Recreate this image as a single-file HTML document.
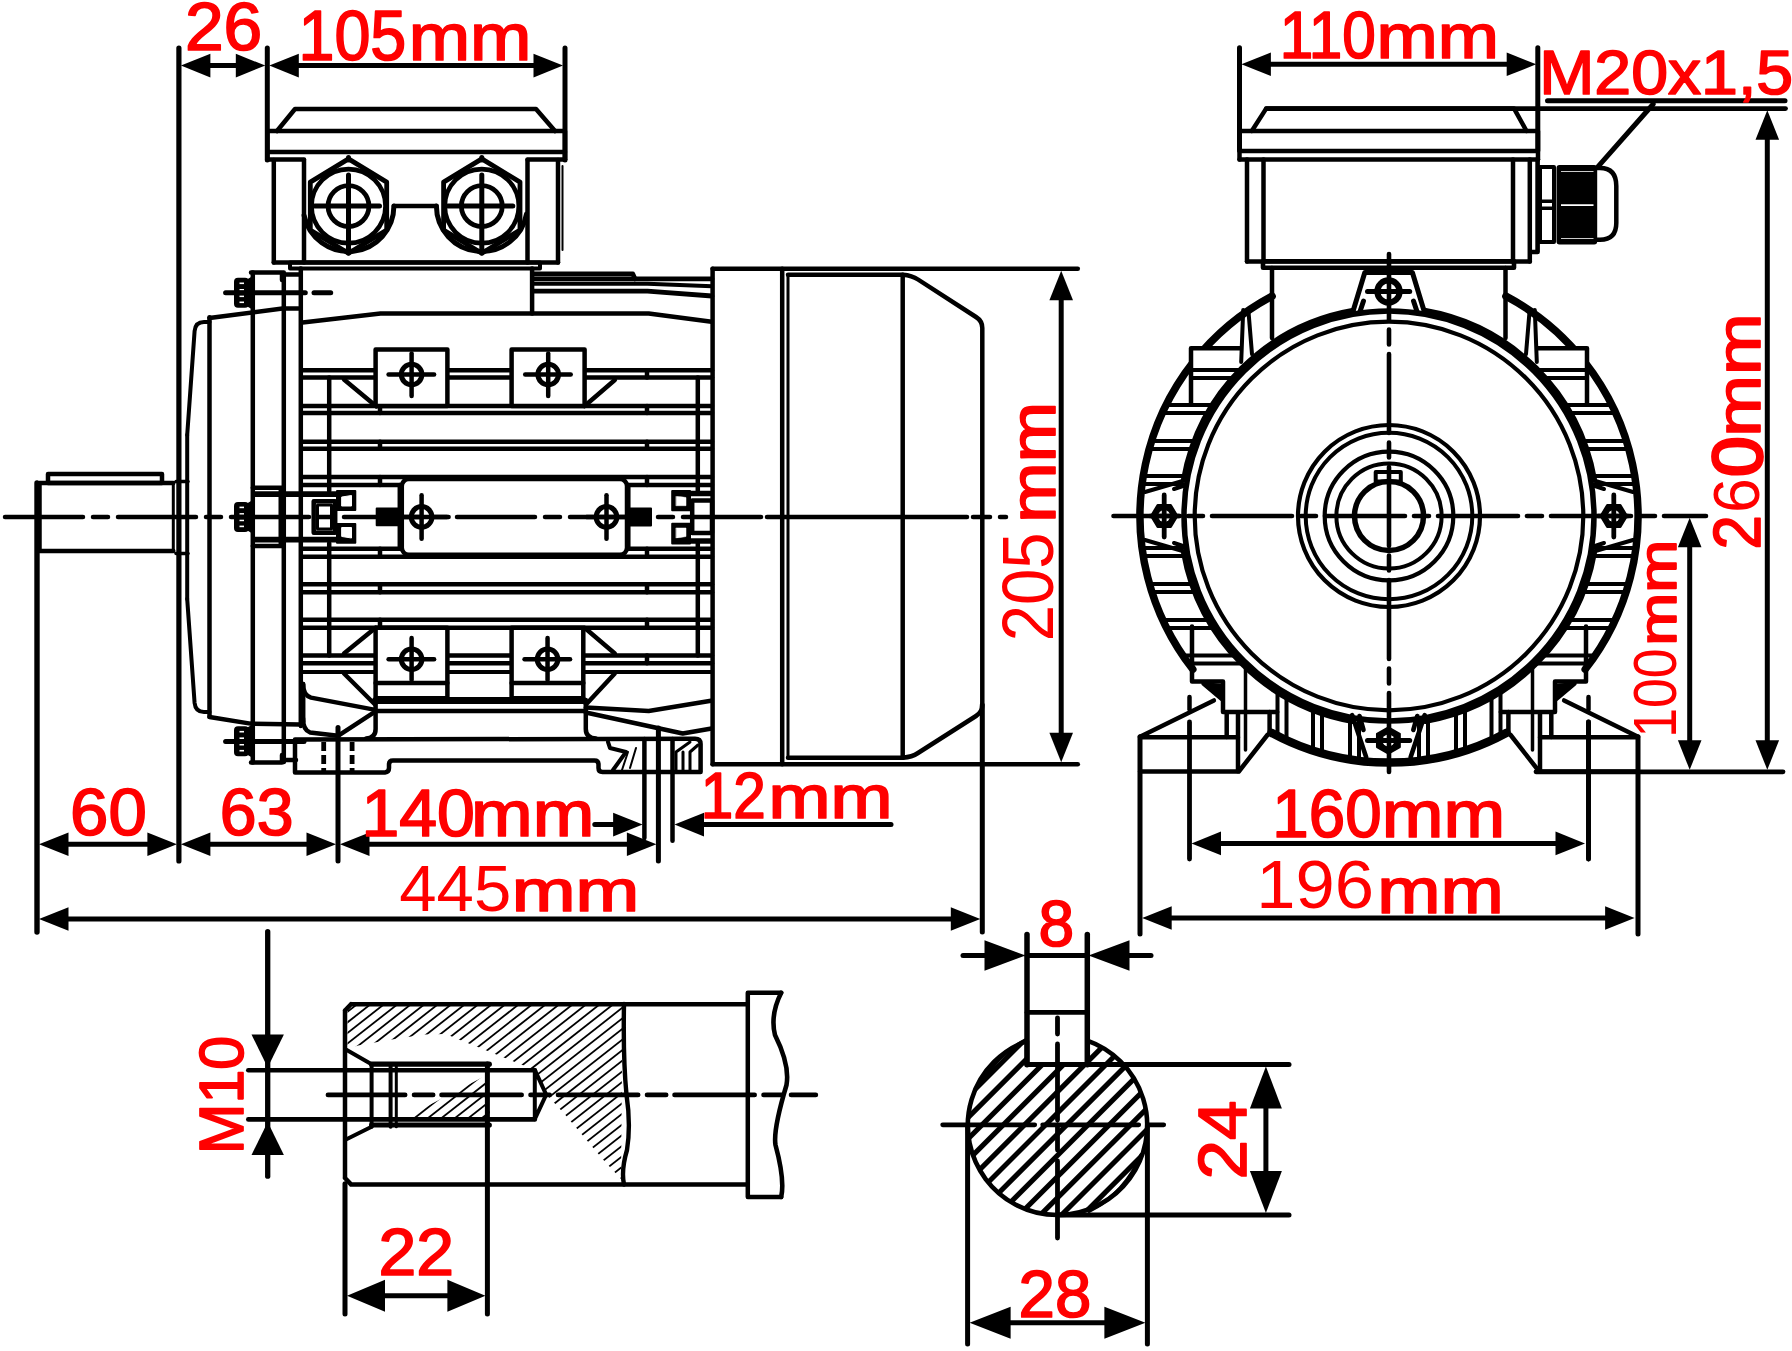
<!DOCTYPE html>
<html><head><meta charset="utf-8"><title>Motor dimensions</title>
<style>
html,body{margin:0;padding:0;background:#fff}
svg{display:block}
.t{font-family:"Liberation Sans",sans-serif;fill:#f00;stroke:#f00;stroke-width:1.7;stroke-linejoin:round}
.lt{stroke:none}
.bd{stroke-width:2.8}
</style></head><body>
<svg width="1792" height="1351" viewBox="0 0 1792 1351">
<rect width="1792" height="1351" fill="#fff"/>
<g stroke="#000" fill="none" stroke-linecap="round" stroke-linejoin="round">
<!-- side view -->
<line x1="302.6" y1="370.2" x2="712" y2="370.2" stroke-width="4.5" />
<line x1="302.6" y1="377.5" x2="712" y2="377.5" stroke-width="4.5" />
<line x1="380" y1="370.2" x2="380" y2="377.5" stroke-width="4.5" />
<line x1="647" y1="370.2" x2="647" y2="377.5" stroke-width="4.5" />
<line x1="302.6" y1="406" x2="712" y2="406" stroke-width="4.5" />
<line x1="302.6" y1="413" x2="712" y2="413" stroke-width="4.5" />
<line x1="380" y1="406" x2="380" y2="413" stroke-width="4.5" />
<line x1="647" y1="406" x2="647" y2="413" stroke-width="4.5" />
<line x1="302.6" y1="441.7" x2="712" y2="441.7" stroke-width="4.5" />
<line x1="302.6" y1="448.8" x2="712" y2="448.8" stroke-width="4.5" />
<line x1="380" y1="441.7" x2="380" y2="448.8" stroke-width="4.5" />
<line x1="647" y1="441.7" x2="647" y2="448.8" stroke-width="4.5" />
<line x1="302.6" y1="477.1" x2="712" y2="477.1" stroke-width="4.5" />
<line x1="302.6" y1="485.1" x2="712" y2="485.1" stroke-width="4.5" />
<line x1="380" y1="477.1" x2="380" y2="485.1" stroke-width="4.5" />
<line x1="647" y1="477.1" x2="647" y2="485.1" stroke-width="4.5" />
<line x1="302.6" y1="548.7" x2="712" y2="548.7" stroke-width="4.5" />
<line x1="302.6" y1="556.8" x2="712" y2="556.8" stroke-width="4.5" />
<line x1="380" y1="548.7" x2="380" y2="556.8" stroke-width="4.5" />
<line x1="647" y1="548.7" x2="647" y2="556.8" stroke-width="4.5" />
<line x1="302.6" y1="584.2" x2="712" y2="584.2" stroke-width="4.5" />
<line x1="302.6" y1="592.3" x2="712" y2="592.3" stroke-width="4.5" />
<line x1="380" y1="584.2" x2="380" y2="592.3" stroke-width="4.5" />
<line x1="647" y1="584.2" x2="647" y2="592.3" stroke-width="4.5" />
<line x1="302.6" y1="619.7" x2="712" y2="619.7" stroke-width="4.5" />
<line x1="302.6" y1="627.8" x2="712" y2="627.8" stroke-width="4.5" />
<line x1="380" y1="619.7" x2="380" y2="627.8" stroke-width="4.5" />
<line x1="647" y1="619.7" x2="647" y2="627.8" stroke-width="4.5" />
<line x1="302.6" y1="655.5" x2="712" y2="655.5" stroke-width="4.5" />
<line x1="302.6" y1="663.3" x2="712" y2="663.3" stroke-width="4.5" />
<line x1="380" y1="655.5" x2="380" y2="663.3" stroke-width="4.5" />
<line x1="647" y1="655.5" x2="647" y2="663.3" stroke-width="4.5" />
<line x1="329.2" y1="377.5" x2="329.2" y2="491" stroke-width="4.5" />
<line x1="329.2" y1="543" x2="329.2" y2="655.5" stroke-width="4.5" />
<line x1="697.8" y1="377.5" x2="697.8" y2="491" stroke-width="4.5" />
<line x1="697.8" y1="543.5" x2="697.8" y2="655.5" stroke-width="4.5" />
<line x1="302.6" y1="672" x2="712" y2="672" stroke-width="4.2" />
<line x1="344" y1="379.5" x2="376.2" y2="406.3" stroke-width="4.5" />
<line x1="614.8" y1="380" x2="584.6" y2="406" stroke-width="4.5" />
<line x1="344" y1="653.5" x2="375.6" y2="627.8" stroke-width="4.5" />
<line x1="614.8" y1="653.5" x2="584.6" y2="627.8" stroke-width="4.5" />
<line x1="344" y1="673.5" x2="375" y2="704.5" stroke-width="4.5" />
<line x1="614.8" y1="673.5" x2="586" y2="704.5" stroke-width="4.5" />
<line x1="300.8" y1="268.4" x2="300.8" y2="726" stroke-width="4.5" />
<path d="M302.6,322.6 L380.5,313.5 L648.7,313.5 L711.6,321.7" stroke-width="4.5" fill="none" />
<path d="M303,684 Q303,695 311,697.6 L374,709.6" stroke-width="4.5" fill="none" />
<path d="M303,718 Q303,730 310,732.4 L338,735.8 L374,712.3" stroke-width="4.5" fill="none" />
<path d="M585.8,707.5 L648.7,711 L711,700.8" stroke-width="4.5" fill="none" />
<path d="M585.8,712.5 L682.7,733.5 L711.6,728.5" stroke-width="4.5" fill="none" />
<line x1="532.1" y1="268.4" x2="532.1" y2="313.5" stroke-width="4.5" />
<path d="M534,273.9 L632.8,273.9 L635,278.9" stroke-width="4.8" fill="none" />
<line x1="534" y1="278.9" x2="712" y2="278.9" stroke-width="4.8" />
<path d="M534,283.8 L647.5,283.8 L712,286.2" stroke-width="4" fill="none" />
<path d="M534,291.1 L647.5,291.1 L712,296" stroke-width="4.8" fill="none" />
<rect x="375.6" y="349.4" width="71.8" height="56.6" rx="0" stroke-width="4.5" fill="#fff" />
<circle cx="411.6" cy="374.5" r="10.3" stroke-width="5" fill="none" />
<line x1="388.6" y1="374.5" x2="434.1" y2="374.5" stroke-width="4.5" />
<line x1="411.6" y1="353.5" x2="411.6" y2="396" stroke-width="4.5" />
<rect x="511.6" y="349.4" width="73" height="56.6" rx="0" stroke-width="4.5" fill="#fff" />
<circle cx="548.2" cy="374.5" r="10.3" stroke-width="5" fill="none" />
<line x1="525.2" y1="374.5" x2="570.7" y2="374.5" stroke-width="4.5" />
<line x1="548.2" y1="353.5" x2="548.2" y2="396" stroke-width="4.5" />
<rect x="375.6" y="627.8" width="71.8" height="70.5" rx="0" stroke-width="4.5" fill="#fff" />
<line x1="375.6" y1="683" x2="447.4" y2="683" stroke-width="4.5" />
<circle cx="411.6" cy="659.3" r="10.3" stroke-width="5" fill="none" />
<line x1="388.6" y1="659.3" x2="434.1" y2="659.3" stroke-width="4.5" />
<line x1="411.6" y1="638" x2="411.6" y2="680" stroke-width="4.5" />
<rect x="511.6" y="627.8" width="71.7" height="70.5" rx="0" stroke-width="4.5" fill="#fff" />
<line x1="511.6" y1="683" x2="583.3" y2="683" stroke-width="4.5" />
<circle cx="547.55" cy="659.3" r="10.3" stroke-width="5" fill="none" />
<line x1="524.55" y1="659.3" x2="570.05" y2="659.3" stroke-width="4.5" />
<line x1="547.55" y1="638" x2="547.55" y2="680" stroke-width="4.5" />
<line x1="375.6" y1="700.5" x2="583.3" y2="700.5" stroke-width="7" />
<line x1="375.6" y1="711" x2="585.8" y2="711" stroke-width="4.5" />
<path d="M375.6,700 L375.6,729 Q375.6,738 366,738.5" stroke-width="4.5" fill="none" />
<path d="M585.8,700 L585.8,729 Q585.8,738 596,738.5" stroke-width="4.5" fill="none" />
<line x1="399.8" y1="485" x2="399.8" y2="548.7" stroke-width="4.5" />
<line x1="628.3" y1="485" x2="628.3" y2="548.7" stroke-width="4.5" />
<rect x="401.8" y="479" width="225.2" height="75.8" rx="7" stroke-width="4.5" fill="#fff" />
<rect x="376.7" y="508.6" width="22.8" height="16.7" rx="0" stroke-width="2" fill="#000" />
<rect x="628" y="508.6" width="23" height="16.9" rx="0" stroke-width="2" fill="#000" />
<circle cx="421.6" cy="516.9" r="10.3" stroke-width="5" fill="none" />
<line x1="401.6" y1="516.9" x2="448.6" y2="516.9" stroke-width="4.5" />
<line x1="421.6" y1="495.2" x2="421.6" y2="538.7" stroke-width="4.5" />
<circle cx="606.5" cy="516.9" r="10.3" stroke-width="5" fill="none" />
<line x1="586.5" y1="516.9" x2="633.5" y2="516.9" stroke-width="4.5" />
<line x1="606.5" y1="495.2" x2="606.5" y2="538.7" stroke-width="4.5" />
<line x1="252.8" y1="494.2" x2="355.3" y2="494.2" stroke-width="5.8" stroke-linecap="butt"/>
<line x1="252.8" y1="539.6" x2="355.3" y2="539.6" stroke-width="5.8" stroke-linecap="butt"/>
<line x1="252.8" y1="487.8" x2="283.6" y2="487.8" stroke-width="4.5" />
<line x1="252.8" y1="546" x2="283.6" y2="546" stroke-width="4.5" />
<line x1="282" y1="491" x2="282" y2="543" stroke-width="7" />
<rect x="313.7" y="501.2" width="21.5" height="31.5" rx="0" stroke-width="4.5" fill="#fff" />
<rect x="317.5" y="505" width="14" height="24" rx="0" stroke-width="3" fill="none" />
<rect x="337" y="491" width="18.3" height="19" rx="0" stroke-width="2" fill="#000" />
<path d="M342,497 L351.5,495.5 L351.5,506 L342,506 Z" stroke-width="1" fill="#fff" stroke="#fff"/>
<rect x="337" y="524" width="18.3" height="18.7" rx="0" stroke-width="2" fill="#000" />
<path d="M342,527.5 L351.5,527.5 L351.5,538 L342,536.5 Z" stroke-width="1" fill="#fff" stroke="#fff"/>
<rect x="672.2" y="491" width="17.8" height="19.2" rx="0" stroke-width="2" fill="#000" />
<path d="M676.2,495.7 L686,497.5 L686,505.7 L676.2,505.7 Z" stroke-width="0.5" fill="#fff" stroke="#fff"/>
<rect x="672.2" y="523.8" width="17.8" height="19.7" rx="0" stroke-width="2" fill="#000" />
<path d="M676.2,528 L686,528 L686,536.5 L676.2,538.3 Z" stroke-width="0.5" fill="#fff" stroke="#fff"/>
<line x1="674" y1="493.5" x2="712" y2="493.5" stroke-width="5.5" stroke-linecap="butt"/>
<line x1="674" y1="541" x2="712" y2="541" stroke-width="5.5" stroke-linecap="butt"/>
<rect x="692.2" y="500.5" width="19.8" height="32.5" rx="0" stroke-width="4.5" fill="#fff" />
<line x1="252.8" y1="272.4" x2="252.8" y2="762.5" stroke-width="4.5" />
<line x1="283.8" y1="272.4" x2="283.8" y2="762" stroke-width="4.5" />
<path d="M251,272.4 L282,272.4 L282,280 M283.8,274.4 L300.8,274.4" stroke-width="4.5" fill="none" />
<path d="M251,762.5 L282,762.5 L282,755 M283.8,760 L296,760" stroke-width="4.5" fill="none" />
<line x1="209.5" y1="317.3" x2="209.5" y2="716.7" stroke-width="4.5" />
<path d="M209.5,318 L282.5,308.6 L298.6,308.6" stroke-width="4.5" fill="none" />
<path d="M209.5,717 L250.4,723.6 L300,724.4" stroke-width="4.5" fill="none" />
<path d="M187.2,435 L194.6,331 Q195.5,322 204,322 L209.5,322" stroke-width="4" fill="none" />
<path d="M187.2,599 L194.6,703 Q195.5,712 204,712 L209.5,712" stroke-width="4" fill="none" />
<line x1="187.2" y1="435" x2="187.2" y2="599" stroke-width="4" />
<rect x="235" y="278.8" width="13" height="28" rx="3" stroke-width="2" fill="#000" />
<line x1="239.5" y1="283.3" x2="244" y2="283.3" stroke-width="1.6" stroke="#fff" stroke-linecap="butt"/>
<line x1="239.5" y1="289.8" x2="244" y2="289.8" stroke-width="1.6" stroke="#fff" stroke-linecap="butt"/>
<line x1="239.5" y1="296.3" x2="244" y2="296.3" stroke-width="1.6" stroke="#fff" stroke-linecap="butt"/>
<line x1="239.5" y1="302.3" x2="244" y2="302.3" stroke-width="1.6" stroke="#fff" stroke-linecap="butt"/>
<path d="M246,280.8 L252.8,276.8 L252.8,308.8 L246,304.8 Z" stroke-width="1.5" fill="#000" />
<line x1="225.6" y1="292.8" x2="305.3" y2="292.8" stroke-width="5" />
<line x1="314" y1="292.8" x2="330.7" y2="292.8" stroke-width="5" />
<rect x="235" y="502.9" width="13" height="28" rx="3" stroke-width="2" fill="#000" />
<line x1="239.5" y1="507.4" x2="244" y2="507.4" stroke-width="1.6" stroke="#fff" stroke-linecap="butt"/>
<line x1="239.5" y1="513.9" x2="244" y2="513.9" stroke-width="1.6" stroke="#fff" stroke-linecap="butt"/>
<line x1="239.5" y1="520.4" x2="244" y2="520.4" stroke-width="1.6" stroke="#fff" stroke-linecap="butt"/>
<line x1="239.5" y1="526.4" x2="244" y2="526.4" stroke-width="1.6" stroke="#fff" stroke-linecap="butt"/>
<path d="M246,504.9 L252.8,500.9 L252.8,532.9 L246,528.9 Z" stroke-width="1.5" fill="#000" />
<rect x="235" y="727.2" width="13" height="28" rx="3" stroke-width="2" fill="#000" />
<line x1="239.5" y1="731.7" x2="244" y2="731.7" stroke-width="1.6" stroke="#fff" stroke-linecap="butt"/>
<line x1="239.5" y1="738.2" x2="244" y2="738.2" stroke-width="1.6" stroke="#fff" stroke-linecap="butt"/>
<line x1="239.5" y1="744.7" x2="244" y2="744.7" stroke-width="1.6" stroke="#fff" stroke-linecap="butt"/>
<line x1="239.5" y1="750.7" x2="244" y2="750.7" stroke-width="1.6" stroke="#fff" stroke-linecap="butt"/>
<path d="M246,729.2 L252.8,725.2 L252.8,757.2 L246,753.2 Z" stroke-width="1.5" fill="#000" />
<line x1="225.6" y1="741.4" x2="304" y2="741.4" stroke-width="5" />
<line x1="303.2" y1="684" x2="303.2" y2="722" stroke-width="4.5" />
<path d="M173.3,483 L39.5,483 L39.5,551 L173.3,551" stroke-width="4.5" fill="none" />
<line x1="173.3" y1="483" x2="173.3" y2="551" stroke-width="3" />
<rect x="48" y="474" width="114" height="9" rx="0" stroke-width="4.5" fill="none" />
<line x1="37" y1="483" x2="37" y2="932" stroke-width="5.4" />
<line x1="176" y1="481.6" x2="188" y2="481.6" stroke-width="3.5" />
<line x1="176" y1="553.4" x2="188" y2="553.4" stroke-width="3.5" />
<path d="M277,131 L295,109 L536,109 L555,131" stroke-width="4.5" fill="none" />
<rect x="267.3" y="131" width="297.7" height="21" rx="0" stroke-width="4.5" fill="none" />
<line x1="267.3" y1="159.6" x2="304" y2="159.6" stroke-width="4.5" />
<line x1="527.5" y1="159.6" x2="565" y2="159.6" stroke-width="4.5" />
<line x1="267.3" y1="152" x2="267.3" y2="159.6" stroke-width="4.5" />
<line x1="565" y1="152" x2="565" y2="159.6" stroke-width="4.5" />
<line x1="273.8" y1="160" x2="273.8" y2="262.4" stroke-width="4.5" />
<line x1="304" y1="160" x2="304" y2="262.4" stroke-width="4.5" />
<line x1="527.5" y1="160" x2="527.5" y2="262.4" stroke-width="4.5" />
<line x1="558" y1="160" x2="558" y2="262.4" stroke-width="4.5" />
<line x1="273.8" y1="262.4" x2="558" y2="262.4" stroke-width="4.5" />
<line x1="562.5" y1="166" x2="562.5" y2="250" stroke-width="2" />
<rect x="290" y="262.4" width="250" height="6.2" rx="0" stroke-width="4" fill="none" />
<polygon points="348.5,158.9 386.7,182.1 386.7,230.1 348.5,253.3 310.3,230.1 310.3,182.1" stroke-width="4.8" fill="#fff"/>
<line x1="348.5" y1="157.6" x2="348.5" y2="160.1" stroke-width="5" />
<circle cx="348.5" cy="206.1" r="37" stroke-width="4.6" fill="none" />
<circle cx="348.5" cy="206.1" r="20.4" stroke-width="4.8" fill="none" />
<line x1="314.5" y1="206.1" x2="379.5" y2="206.1" stroke-width="5" />
<line x1="348.5" y1="175.1" x2="348.5" y2="253.1" stroke-width="5" />
<polygon points="481.8,158.9 520,182.1 520,230.1 481.8,253.3 443.6,230.1 443.6,182.1" stroke-width="4.8" fill="#fff"/>
<line x1="481.8" y1="157.6" x2="481.8" y2="160.1" stroke-width="5" />
<circle cx="481.8" cy="206.1" r="37" stroke-width="4.6" fill="none" />
<circle cx="481.8" cy="206.1" r="20.4" stroke-width="4.8" fill="none" />
<line x1="447.8" y1="206.1" x2="512.8" y2="206.1" stroke-width="5" />
<line x1="481.8" y1="175.1" x2="481.8" y2="253.1" stroke-width="5" />
<path d="M393.9,206.1 A45.4,45.4 0 0 1 304.09,215.54" stroke-width="5" fill="none" />
<path d="M436.4,206.1 A45.4,45.4 0 0 0 526.51,213.98" stroke-width="5" fill="none" />
<line x1="393.9" y1="206.1" x2="436.4" y2="206.1" stroke-width="4.5" />
<line x1="712.6" y1="268.8" x2="712.6" y2="764.3" stroke-width="4.5" />
<line x1="712.6" y1="268.8" x2="1077.8" y2="268.8" stroke-width="4.5" />
<line x1="712.6" y1="764.3" x2="1077.8" y2="764.3" stroke-width="4.5" />
<line x1="782.2" y1="268.8" x2="782.2" y2="764.3" stroke-width="4.5" />
<line x1="788" y1="274.8" x2="788" y2="757.7" stroke-width="3" />
<path d="M788,274.8 L903,274.8 Q912,275.5 918,279.5 L976,317 Q982.3,321 982.3,328 L982.3,705 Q982.3,712 976,716 L918,753 Q912,757 903,757.7 L788,757.7" stroke-width="4.5" fill="none" />
<line x1="902.7" y1="274.8" x2="902.7" y2="757.7" stroke-width="4.5" />
<line x1="982.3" y1="705" x2="982.3" y2="932" stroke-width="5" />
<path d="M295,739.5 L295,772.4 L385,772.4 Q389,772 389,768 L389,764.5 Q389,760.6 393,760.6 L594.5,760.6 Q598.5,760.6 598.5,764.5 L598.5,768 Q598.5,772 602.5,772 L700.6,772 L700.6,744 Q700.6,738.8 695,738.8 Z" stroke-width="4.5" fill="none" />
<line x1="323.7" y1="742" x2="323.7" y2="771" stroke-width="4.8" stroke-dasharray="9 4" stroke-linecap="butt"/>
<line x1="352.1" y1="742" x2="352.1" y2="771" stroke-width="4.8" stroke-dasharray="9 4" stroke-linecap="butt"/>
<path d="M608,742 L610,748 L626,752 L613,770" stroke-width="4" fill="none" />
<path d="M628,752 L622,770 M636,748 L630,768" stroke-width="2" fill="none" />
<path d="M676,770 L676,752 L690,742 M683,770 L683,752 M690,770 L690,752 L698,745" stroke-width="3" fill="none" />
<line x1="338" y1="727.4" x2="338" y2="861" stroke-width="5" />
<line x1="644.4" y1="738.9" x2="644.4" y2="838" stroke-width="4.5" />
<line x1="658.4" y1="728" x2="658.4" y2="861" stroke-width="5" />
<line x1="672.5" y1="738.9" x2="672.5" y2="840.7" stroke-width="4.5" />
<line x1="178.9" y1="48" x2="178.9" y2="861" stroke-width="5.2" />
<line x1="267.3" y1="48" x2="267.3" y2="160" stroke-width="5" />
<line x1="565" y1="48" x2="565" y2="160" stroke-width="5" />
<line x1="199.55" y1="65.6" x2="246.65" y2="65.6" stroke-width="5" stroke-linecap="butt"/>
<polygon points="180.9,65.6 210.4,53.8 210.4,77.4" fill="#000" stroke="none"/>
<polygon points="265.3,65.6 235.8,53.8 235.8,77.4" fill="#000" stroke="none"/>
<line x1="287.95" y1="65.6" x2="544.35" y2="65.6" stroke-width="5" stroke-linecap="butt"/>
<polygon points="269.3,65.6 298.8,53.8 298.8,77.4" fill="#000" stroke="none"/>
<polygon points="563,65.6 533.5,53.8 533.5,77.4" fill="#000" stroke="none"/>
<line x1="57.65" y1="844.3" x2="158.25" y2="844.3" stroke-width="5" stroke-linecap="butt"/>
<polygon points="39,844.3 68.5,832.5 68.5,856.1" fill="#000" stroke="none"/>
<polygon points="176.9,844.3 147.4,832.5 147.4,856.1" fill="#000" stroke="none"/>
<line x1="199.55" y1="844.3" x2="317.35" y2="844.3" stroke-width="5" stroke-linecap="butt"/>
<polygon points="180.9,844.3 210.4,832.5 210.4,856.1" fill="#000" stroke="none"/>
<polygon points="336,844.3 306.5,832.5 306.5,856.1" fill="#000" stroke="none"/>
<line x1="358.65" y1="844.3" x2="637.75" y2="844.3" stroke-width="5" stroke-linecap="butt"/>
<polygon points="340,844.3 369.5,832.5 369.5,856.1" fill="#000" stroke="none"/>
<polygon points="656.4,844.3 626.9,832.5 626.9,856.1" fill="#000" stroke="none"/>
<line x1="594.8" y1="824.6" x2="625" y2="824.6" stroke-width="5" />
<polygon points="642.6,824.6 613.1,812.8 613.1,836.4" fill="#000" stroke="none"/>
<polygon points="674.5,824.6 704,812.8 704,836.4" fill="#000" stroke="none"/>
<line x1="695" y1="824.6" x2="891" y2="824.6" stroke-width="5" />
<line x1="57.65" y1="919" x2="961.65" y2="919" stroke-width="5" stroke-linecap="butt"/>
<polygon points="39,919 68.5,907.2 68.5,930.8" fill="#000" stroke="none"/>
<polygon points="980.3,919 950.8,907.2 950.8,930.8" fill="#000" stroke="none"/>
<line x1="1061.2" y1="289.45" x2="1061.2" y2="743.65" stroke-width="5" stroke-linecap="butt"/>
<polygon points="1061.2,270.8 1049.4,300.3 1073,300.3" fill="#000" stroke="none"/>
<polygon points="1061.2,762.3 1049.4,732.8 1073,732.8" fill="#000" stroke="none"/>
<line x1="5" y1="517" x2="763" y2="517" stroke-width="4.5" stroke-dasharray="78 10 15 10"/>
<line x1="767" y1="517" x2="967" y2="517" stroke-width="4.5" />
<line x1="973" y1="517" x2="990" y2="517" stroke-width="4.5" />
<line x1="1000" y1="517" x2="1006" y2="517" stroke-width="4.5" />
<!-- end view -->
<path d="M1192.79,669.3 A249,249 0 0 1 1272.1,296.15" stroke-width="7.5" fill="none" />
<path d="M1271.33,732.72 A246.6,246.6 0 0 0 1389,762.6" stroke-width="8.5" fill="none" />
<rect x="1191" y="348.3" width="49.5" height="21" fill="#fff" stroke="none"/>
<line x1="1191" y1="370" x2="1239.45" y2="370" stroke-width="4" />
<line x1="1191" y1="378" x2="1232.04" y2="378" stroke-width="4" />
<line x1="1168.11" y1="405" x2="1211.91" y2="405" stroke-width="4" />
<line x1="1164.3" y1="413" x2="1207.14" y2="413" stroke-width="4" />
<line x1="1153.56" y1="441" x2="1193.92" y2="441" stroke-width="4" />
<line x1="1151.18" y1="449" x2="1191.03" y2="449" stroke-width="4" />
<line x1="1145.23" y1="476" x2="1183.86" y2="476" stroke-width="4" />
<line x1="1144.06" y1="484" x2="1182.46" y2="484" stroke-width="4" />
<line x1="1144.06" y1="548" x2="1182.46" y2="548" stroke-width="4" />
<line x1="1145.23" y1="556" x2="1183.86" y2="556" stroke-width="4" />
<line x1="1151.47" y1="584" x2="1191.37" y2="584" stroke-width="4" />
<line x1="1153.88" y1="592" x2="1194.31" y2="592" stroke-width="4" />
<line x1="1164.76" y1="620" x2="1207.71" y2="620" stroke-width="4" />
<line x1="1168.61" y1="628" x2="1212.54" y2="628" stroke-width="4" />
<line x1="1184.75" y1="655.5" x2="1233.37" y2="655.5" stroke-width="4" />
<line x1="1190.39" y1="663.5" x2="1240.93" y2="663.5" stroke-width="4" />
<line x1="1277.5" y1="688.03" x2="1277.5" y2="736.64" stroke-width="4" />
<line x1="1286.5" y1="693.54" x2="1286.5" y2="740.92" stroke-width="4" />
<line x1="1313" y1="706.39" x2="1313" y2="751.12" stroke-width="4" />
<line x1="1322" y1="709.74" x2="1322" y2="753.82" stroke-width="4" />
<line x1="1350" y1="717.26" x2="1350" y2="759.93" stroke-width="4" />
<line x1="1359" y1="718.79" x2="1359" y2="761.19" stroke-width="4" />
<path d="M1240.5,348.3 L1191,348.3 L1191,404" stroke-width="4.5" fill="none" />
<path d="M1243.2,310 L1241.2,362 M1248.6,313 L1252,354" stroke-width="4" fill="none" />
<path d="M1192,626.6 L1192,681.6 L1223,681.6 L1223,712 L1277.2,712" stroke-width="4.5" fill="none" />
<path d="M1203.3,683.8 L1221.4,699 L1221.4,686 Z" stroke-width="4" fill="#000" />
<line x1="1245.5" y1="668" x2="1245.5" y2="750" stroke-width="3.5" />
<line x1="1269.6" y1="712" x2="1269.6" y2="731" stroke-width="4.5" />
<path d="M1140,736.8 L1213.9,700.4" stroke-width="4.5" fill="none" />
<path d="M1140,737.3 L1238,737.3 M1140,771.5 L1238.8,771.5 L1267.4,735" stroke-width="4.5" fill="none" />
<line x1="1238" y1="712.5" x2="1238" y2="771.2" stroke-width="4.5" />
<line x1="1226.7" y1="712.5" x2="1226.7" y2="737" stroke-width="4.5" />
<line x1="1140" y1="736.8" x2="1140" y2="934" stroke-width="5" />
<line x1="1189.5" y1="697" x2="1189.5" y2="709.5" stroke-width="4.5" />
<line x1="1189.5" y1="722" x2="1189.5" y2="859" stroke-width="4.8" />
<polygon points="1177.4,516 1170.8,527.09 1157.6,527.09 1151,516 1157.6,504.91 1170.8,504.91" stroke-width="2" fill="#000"/>
<circle cx="1164.2" cy="516" r="6" fill="#fff" stroke="none"/>
<line x1="1164.2" y1="495" x2="1164.2" y2="537" stroke-width="4.8" />
<path d="M1145,492 L1186,480 M1174,489 L1186,485" stroke-width="4" fill="none" />
<path d="M1145,540 L1186,552 M1174,543 L1186,547" stroke-width="4" fill="none" />
<path d="M1585.21,669.3 A249,249 0 0 0 1505.9,296.15" stroke-width="7.5" fill="none" />
<path d="M1506.67,732.72 A246.6,246.6 0 0 1 1389,762.6" stroke-width="8.5" fill="none" />
<rect x="1537.5" y="348.3" width="49.5" height="21" fill="#fff" stroke="none"/>
<line x1="1587" y1="370" x2="1538.55" y2="370" stroke-width="4" />
<line x1="1587" y1="378" x2="1545.96" y2="378" stroke-width="4" />
<line x1="1609.89" y1="405" x2="1566.09" y2="405" stroke-width="4" />
<line x1="1613.7" y1="413" x2="1570.86" y2="413" stroke-width="4" />
<line x1="1624.44" y1="441" x2="1584.08" y2="441" stroke-width="4" />
<line x1="1626.82" y1="449" x2="1586.97" y2="449" stroke-width="4" />
<line x1="1632.77" y1="476" x2="1594.14" y2="476" stroke-width="4" />
<line x1="1633.94" y1="484" x2="1595.54" y2="484" stroke-width="4" />
<line x1="1633.94" y1="548" x2="1595.54" y2="548" stroke-width="4" />
<line x1="1632.77" y1="556" x2="1594.14" y2="556" stroke-width="4" />
<line x1="1626.53" y1="584" x2="1586.63" y2="584" stroke-width="4" />
<line x1="1624.12" y1="592" x2="1583.69" y2="592" stroke-width="4" />
<line x1="1613.24" y1="620" x2="1570.29" y2="620" stroke-width="4" />
<line x1="1609.39" y1="628" x2="1565.46" y2="628" stroke-width="4" />
<line x1="1593.25" y1="655.5" x2="1544.63" y2="655.5" stroke-width="4" />
<line x1="1587.61" y1="663.5" x2="1537.07" y2="663.5" stroke-width="4" />
<line x1="1500.5" y1="688.03" x2="1500.5" y2="736.64" stroke-width="4" />
<line x1="1491.5" y1="693.54" x2="1491.5" y2="740.92" stroke-width="4" />
<line x1="1465" y1="706.39" x2="1465" y2="751.12" stroke-width="4" />
<line x1="1456" y1="709.74" x2="1456" y2="753.82" stroke-width="4" />
<line x1="1428" y1="717.26" x2="1428" y2="759.93" stroke-width="4" />
<line x1="1419" y1="718.79" x2="1419" y2="761.19" stroke-width="4" />
<path d="M1537.5,348.3 L1587,348.3 L1587,404" stroke-width="4.5" fill="none" />
<path d="M1534.8,310 L1536.8,362 M1529.4,313 L1526,354" stroke-width="4" fill="none" />
<path d="M1586,626.6 L1586,681.6 L1555,681.6 L1555,712 L1500.8,712" stroke-width="4.5" fill="none" />
<path d="M1574.7,683.8 L1556.6,699 L1556.6,686 Z" stroke-width="4" fill="#000" />
<line x1="1532.5" y1="668" x2="1532.5" y2="750" stroke-width="3.5" />
<line x1="1508.4" y1="712" x2="1508.4" y2="731" stroke-width="4.5" />
<path d="M1638,736.8 L1564.1,700.4" stroke-width="4.5" fill="none" />
<path d="M1638,737.3 L1540,737.3 M1638,771.5 L1539.2,771.5 L1510.6,735" stroke-width="4.5" fill="none" />
<line x1="1540" y1="712.5" x2="1540" y2="771.2" stroke-width="4.5" />
<line x1="1551.3" y1="712.5" x2="1551.3" y2="737" stroke-width="4.5" />
<line x1="1638" y1="736.8" x2="1638" y2="934" stroke-width="5" />
<line x1="1588.5" y1="697" x2="1588.5" y2="709.5" stroke-width="4.5" />
<line x1="1588.5" y1="722" x2="1588.5" y2="859" stroke-width="4.8" />
<polygon points="1627,516 1620.4,527.09 1607.2,527.09 1600.6,516 1607.2,504.91 1620.4,504.91" stroke-width="2" fill="#000"/>
<circle cx="1613.8" cy="516" r="6" fill="#fff" stroke="none"/>
<line x1="1613.8" y1="495" x2="1613.8" y2="537" stroke-width="4.8" />
<path d="M1633,492 L1592,480 M1604,489 L1592,485" stroke-width="4" fill="none" />
<path d="M1633,540 L1592,552 M1604,543 L1592,547" stroke-width="4" fill="none" />
<circle cx="1389" cy="516" r="205" stroke-width="5.5" fill="none" />
<circle cx="1389" cy="516" r="194.3" stroke-width="4.2" fill="none" />
<path d="M1594.82,552.29 A209,209 0 0 1 1425.29,721.82" stroke-width="4.5" fill="none" />
<path d="M1352.71,721.82 A209,209 0 0 1 1183.18,552.29" stroke-width="4.5" fill="none" />
<path d="M1183.18,479.71 A209,209 0 0 1 1353.43,310.05" stroke-width="4.5" fill="none" />
<path d="M1424.57,310.05 A209,209 0 0 1 1594.82,479.71" stroke-width="4.5" fill="none" />
<circle cx="1389" cy="516" r="91" stroke-width="4.2" fill="none" />
<circle cx="1389" cy="516" r="83.3" stroke-width="4" fill="none" />
<circle cx="1389" cy="516" r="64.3" stroke-width="4.2" fill="none" />
<circle cx="1389" cy="516" r="52.6" stroke-width="4" fill="none" />
<circle cx="1389" cy="516" r="34.5" stroke-width="5.5" fill="none" />
<rect x="1375.7" y="472" width="25.1" height="9.4" rx="0" stroke-width="4" fill="none" />
<line x1="1272" y1="268" x2="1272" y2="338" stroke-width="4.5" />
<line x1="1505.5" y1="268" x2="1505.5" y2="338" stroke-width="4.5" />
<path d="M1251.8,131 L1266.3,108.4 L1514,108.4 L1526.5,131" stroke-width="4.5" fill="none" />
<rect x="1239.5" y="131" width="298.5" height="20.1" rx="0" stroke-width="4.5" fill="none" />
<line x1="1239.5" y1="159.4" x2="1538" y2="159.4" stroke-width="4.5" />
<line x1="1239.5" y1="151" x2="1239.5" y2="159.4" stroke-width="4.5" />
<line x1="1538" y1="151" x2="1538" y2="159.4" stroke-width="4.5" />
<line x1="1247" y1="159.4" x2="1247" y2="261.4" stroke-width="4.5" />
<line x1="1263.5" y1="159.4" x2="1263.5" y2="261.4" stroke-width="4.5" />
<line x1="1513" y1="159.4" x2="1513" y2="261.4" stroke-width="4.5" />
<line x1="1529.8" y1="159.4" x2="1529.8" y2="261.4" stroke-width="4.5" />
<line x1="1247" y1="261.4" x2="1529.8" y2="261.4" stroke-width="4.5" />
<rect x="1263" y="261.2" width="251" height="6.6" rx="0" stroke-width="4.6" fill="none" />
<path d="M1537.6,159.4 L1537.6,252 L1531,252" stroke-width="4.6" fill="none" />
<rect x="1540" y="167" width="14" height="75" rx="0" stroke-width="4" fill="none" />
<line x1="1540" y1="201.3" x2="1554" y2="201.3" stroke-width="3.6" />
<line x1="1540" y1="208.2" x2="1554" y2="208.2" stroke-width="3.6" />
<rect x="1557.5" y="166" width="38.7" height="77.5" rx="2" stroke-width="2" fill="#000" />
<line x1="1561" y1="205.1" x2="1593.5" y2="205.1" stroke-width="1.8" stroke="#fff" stroke-linecap="butt"/>
<line x1="1561" y1="171.5" x2="1593.5" y2="171.5" stroke-width="0.8" stroke="#fff" stroke-linecap="butt"/>
<line x1="1561" y1="238.5" x2="1593.5" y2="238.5" stroke-width="0.8" stroke="#fff" stroke-linecap="butt"/>
<path d="M1596.7,168 L1600,168 Q1616.3,168 1616.3,186 L1616.3,223 Q1616.3,239.7 1600,239.7 L1596.7,239.7" stroke-width="4.5" fill="none" />
<line x1="1653.3" y1="104" x2="1598" y2="166.7" stroke-width="5" />
<line x1="1547.5" y1="100.7" x2="1785" y2="100.7" stroke-width="5" />
<line x1="1266.3" y1="108.6" x2="1785.5" y2="108.6" stroke-width="4.8" />
<path d="M1353.4,310 L1364.8,272.5 L1412.4,272.5 L1423.8,310 M1363.5,301 L1359.5,313 M1413.5,301 L1417.5,313" stroke-width="5" fill="none" />
<circle cx="1388.5" cy="291.5" r="11.1" stroke-width="6.2" fill="none" />
<line x1="1367.5" y1="291.5" x2="1409.7" y2="291.5" stroke-width="5" />
<path d="M1352.1,715.1 L1366.2,757.3 M1424.7,715.1 L1410.6,757.3 M1359.5,716 L1363.5,730 M1417.3,716 L1413.3,730" stroke-width="4.6" fill="none" />
<polygon points="1399.83,747.1 1388.4,753.7 1376.97,747.1 1376.97,733.9 1388.4,727.3 1399.83,733.9" stroke-width="2" fill="#000"/>
<circle cx="1388.4" cy="740.5" r="6" fill="#fff" stroke="none"/>
<line x1="1367.5" y1="740.5" x2="1409.7" y2="740.5" stroke-width="5" />
<line x1="1239.5" y1="47.7" x2="1239.5" y2="150" stroke-width="5" />
<line x1="1537.8" y1="47.7" x2="1537.8" y2="150" stroke-width="5" />
<line x1="1260.05" y1="64.3" x2="1517.55" y2="64.3" stroke-width="5" stroke-linecap="butt"/>
<polygon points="1241.4,64.3 1270.9,52.5 1270.9,76.1" fill="#000" stroke="none"/>
<polygon points="1536.2,64.3 1506.7,52.5 1506.7,76.1" fill="#000" stroke="none"/>
<line x1="1767.3" y1="128.85" x2="1767.3" y2="751.15" stroke-width="5" stroke-linecap="butt"/>
<polygon points="1767.3,110.2 1755.5,139.7 1779.1,139.7" fill="#000" stroke="none"/>
<polygon points="1767.3,769.8 1755.5,740.3 1779.1,740.3" fill="#000" stroke="none"/>
<line x1="1689.7" y1="536.45" x2="1689.7" y2="751.15" stroke-width="5" stroke-linecap="butt"/>
<polygon points="1689.7,517.8 1677.9,547.3 1701.5,547.3" fill="#000" stroke="none"/>
<polygon points="1689.7,769.8 1677.9,740.3 1701.5,740.3" fill="#000" stroke="none"/>
<line x1="1536" y1="771.8" x2="1783" y2="771.8" stroke-width="4.8" />
<line x1="1210.15" y1="843.4" x2="1566.35" y2="843.4" stroke-width="5" stroke-linecap="butt"/>
<polygon points="1191.5,843.4 1221,831.6 1221,855.2" fill="#000" stroke="none"/>
<polygon points="1585,843.4 1555.5,831.6 1555.5,855.2" fill="#000" stroke="none"/>
<line x1="1588.5" y1="722" x2="1588.5" y2="859" stroke-width="4.8" />
<line x1="1160.85" y1="918" x2="1615.95" y2="918" stroke-width="5" stroke-linecap="butt"/>
<polygon points="1142.2,918 1171.7,906.2 1171.7,929.8" fill="#000" stroke="none"/>
<polygon points="1634.6,918 1605.1,906.2 1605.1,929.8" fill="#000" stroke="none"/>
<line x1="1113.5" y1="516" x2="1706" y2="516" stroke-width="4.6" stroke-dasharray="80 9 15 9" stroke-dashoffset="14.5"/>
<line x1="1150" y1="516" x2="1180" y2="516" stroke-width="4.6" />
<line x1="1598" y1="516" x2="1628" y2="516" stroke-width="4.6" />
<line x1="1389" y1="254" x2="1389" y2="772.5" stroke-width="4.6" stroke-dasharray="79 9.5 15 9.5" stroke-dashoffset="13"/>
<!-- shaft end detail -->
<clipPath id="hs"><path d="M347.5,1005 L622.5,1005 L621,1179 L603,1159.6 L565.4,1115 L547.5,1095.4 L531.4,1068.6 L513.6,1061.4 L495.7,1054.3 L477.9,1047.1 L460,1040 L445.7,1034 L424.3,1034.6 L388.6,1040 L358.2,1045.4 L347.5,1049 Z M406.4,1117 L485,1076 L490.4,1117 Z"/></clipPath>
<g clip-path="url(#hs)" stroke-width="1.8" stroke-linecap="butt">
<line x1="340" y1="975.26" x2="630" y2="747.32"/>
<line x1="340" y1="985.86" x2="630" y2="757.92"/>
<line x1="340" y1="996.46" x2="630" y2="768.52"/>
<line x1="340" y1="1007.06" x2="630" y2="779.12"/>
<line x1="340" y1="1017.66" x2="630" y2="789.72"/>
<line x1="340" y1="1028.26" x2="630" y2="800.32"/>
<line x1="340" y1="1038.86" x2="630" y2="810.92"/>
<line x1="340" y1="1049.46" x2="630" y2="821.52"/>
<line x1="340" y1="1060.06" x2="630" y2="832.12"/>
<line x1="340" y1="1070.66" x2="630" y2="842.72"/>
<line x1="340" y1="1081.26" x2="630" y2="853.32"/>
<line x1="340" y1="1091.86" x2="630" y2="863.92"/>
<line x1="340" y1="1102.46" x2="630" y2="874.52"/>
<line x1="340" y1="1113.06" x2="630" y2="885.12"/>
<line x1="340" y1="1123.66" x2="630" y2="895.72"/>
<line x1="340" y1="1134.26" x2="630" y2="906.32"/>
<line x1="340" y1="1144.86" x2="630" y2="916.92"/>
<line x1="340" y1="1155.46" x2="630" y2="927.52"/>
<line x1="340" y1="1166.06" x2="630" y2="938.12"/>
<line x1="340" y1="1176.66" x2="630" y2="948.72"/>
<line x1="340" y1="1187.26" x2="630" y2="959.32"/>
<line x1="340" y1="1197.86" x2="630" y2="969.92"/>
<line x1="340" y1="1208.46" x2="630" y2="980.52"/>
<line x1="340" y1="1219.06" x2="630" y2="991.12"/>
<line x1="340" y1="1229.66" x2="630" y2="1001.72"/>
<line x1="340" y1="1240.26" x2="630" y2="1012.32"/>
<line x1="340" y1="1250.86" x2="630" y2="1022.92"/>
<line x1="340" y1="1261.46" x2="630" y2="1033.52"/>
<line x1="340" y1="1272.06" x2="630" y2="1044.12"/>
<line x1="340" y1="1282.66" x2="630" y2="1054.72"/>
<line x1="340" y1="1293.26" x2="630" y2="1065.32"/>
<line x1="340" y1="1303.86" x2="630" y2="1075.92"/>
<line x1="340" y1="1314.46" x2="630" y2="1086.52"/>
<line x1="340" y1="1325.06" x2="630" y2="1097.12"/>
<line x1="340" y1="1335.66" x2="630" y2="1107.72"/>
<line x1="340" y1="1346.26" x2="630" y2="1118.32"/>
<line x1="340" y1="1356.86" x2="630" y2="1128.92"/>
<line x1="340" y1="1367.46" x2="630" y2="1139.52"/>
<line x1="340" y1="1378.06" x2="630" y2="1150.12"/>
<line x1="340" y1="1388.66" x2="630" y2="1160.72"/>
<line x1="340" y1="1399.26" x2="630" y2="1171.32"/>
<line x1="340" y1="1409.86" x2="630" y2="1181.92"/>
<line x1="340" y1="1420.46" x2="630" y2="1192.52"/>
</g>
<path d="M351,1004.2 L747.8,1004.2 M351,1184.4 L747.8,1184.4 M345,1010.5 L345,1178 M345,1010.5 L351,1004.2 M345,1178 L351,1184.4" stroke-width="4.5" fill="none" />
<path d="M624,1004 Q623,1060 626.5,1094.6 Q631,1125 627,1150 Q621,1170 624,1184.6" stroke-width="4.4" fill="none" />
<path d="M781.2,992.8 L747.8,992.8 L747.8,1197 L781.2,1197" stroke-width="4.5" fill="none" />
<path d="M781.2,992.8 Q770,1015 775,1035 Q790,1065 786.5,1085 Q773,1130 775.5,1145 Q785,1180 781.2,1197" stroke-width="4.6" fill="none" />
<line x1="328" y1="1094.9" x2="815.8" y2="1094.9" stroke-width="4.8" stroke-dasharray="80 9 19 8.5" stroke-dashoffset="2.9"/>
<line x1="248.3" y1="1070.2" x2="534.8" y2="1070.2" stroke-width="4.6" />
<line x1="248.3" y1="1119.4" x2="534.8" y2="1119.4" stroke-width="4.6" />
<path d="M345,1049 L371.6,1064.2 M345,1140 L371.6,1126.8" stroke-width="4" fill="none" />
<line x1="371.6" y1="1064.2" x2="371.6" y2="1126.8" stroke-width="4" />
<line x1="390.6" y1="1064.2" x2="390.6" y2="1126.8" stroke-width="4" />
<line x1="396.3" y1="1064.2" x2="396.3" y2="1126.8" stroke-width="3" />
<line x1="371.6" y1="1064.2" x2="489.3" y2="1064.2" stroke-width="5.2" />
<line x1="371.6" y1="1125" x2="489.3" y2="1125" stroke-width="5.2" />
<path d="M534.8,1069.9 L546.2,1094.6 L534.8,1119.2 Z" stroke-width="4" fill="none" />
<line x1="345" y1="1183.8" x2="345" y2="1314" stroke-width="5" />
<line x1="487.4" y1="1064" x2="487.4" y2="1314" stroke-width="5" />
<line x1="371.6" y1="1295.7" x2="460.8" y2="1295.7" stroke-width="5" stroke-linecap="butt"/>
<polygon points="347,1295.7 385,1279.7 385,1311.7" fill="#000" stroke="none"/>
<polygon points="485.4,1295.7 447.4,1279.7 447.4,1311.7" fill="#000" stroke="none"/>
<line x1="267.7" y1="931.7" x2="267.7" y2="1176.2" stroke-width="5.3" />
<polygon points="267.7,1067.5 251.5,1034.5 283.9,1034.5" fill="#000" stroke="none"/>
<polygon points="267.7,1122 251.5,1155 283.9,1155" fill="#000" stroke="none"/>
<!-- key section -->
<clipPath id="hk"><path d="M1027,1064.8 L1027,1040.94 A89.7,89.7 0 1 0 1087.3,1040.69 L1087.3,1064.8 Z"/></clipPath>
<g clip-path="url(#hk)" stroke-width="5.1" stroke-linecap="butt">
<line x1="733.2" y1="1225.3" x2="933.2" y2="1025.3"/>
<line x1="754.4" y1="1225.3" x2="954.4" y2="1025.3"/>
<line x1="775.6" y1="1225.3" x2="975.6" y2="1025.3"/>
<line x1="796.8" y1="1225.3" x2="996.8" y2="1025.3"/>
<line x1="818" y1="1225.3" x2="1018" y2="1025.3"/>
<line x1="839.2" y1="1225.3" x2="1039.2" y2="1025.3"/>
<line x1="860.4" y1="1225.3" x2="1060.4" y2="1025.3"/>
<line x1="881.6" y1="1225.3" x2="1081.6" y2="1025.3"/>
<line x1="902.8" y1="1225.3" x2="1102.8" y2="1025.3"/>
<line x1="924" y1="1225.3" x2="1124" y2="1025.3"/>
<line x1="945.2" y1="1225.3" x2="1145.2" y2="1025.3"/>
<line x1="966.4" y1="1225.3" x2="1166.4" y2="1025.3"/>
<line x1="987.6" y1="1225.3" x2="1187.6" y2="1025.3"/>
<line x1="1008.8" y1="1225.3" x2="1208.8" y2="1025.3"/>
<line x1="1030" y1="1225.3" x2="1230" y2="1025.3"/>
<line x1="1051.2" y1="1225.3" x2="1251.2" y2="1025.3"/>
<line x1="1072.4" y1="1225.3" x2="1272.4" y2="1025.3"/>
<line x1="1093.6" y1="1225.3" x2="1293.6" y2="1025.3"/>
</g>
<path d="M1027,1064.8 L1027,1040.94 A89.7,89.7 0 1 0 1087.3,1040.69 L1087.3,1064.8" stroke-width="4.6" fill="none" />
<path d="M984.4,1078.2 A112,112 0 0 1 1025.3,1040" stroke-width="3.2" fill="none" />
<path d="M1089.2,1211.4 A112,112 0 0 0 1141,1154.6" stroke-width="3.2" fill="none" />
<line x1="1027" y1="934.4" x2="1027" y2="1064.8" stroke-width="5.5" />
<line x1="1087.3" y1="934.4" x2="1087.3" y2="1064.8" stroke-width="5.5" />
<line x1="1027" y1="1012.4" x2="1087" y2="1012.4" stroke-width="4.8" />
<line x1="1027" y1="1064.5" x2="1289" y2="1064.5" stroke-width="5" />
<line x1="1057.5" y1="1215" x2="1289" y2="1215" stroke-width="5" />
<line x1="963" y1="955.5" x2="990" y2="955.5" stroke-width="5" />
<polygon points="1025.5,955.5 984.5,940.2 984.5,970.8" fill="#000" stroke="none"/>
<line x1="1027" y1="955.5" x2="1087" y2="955.5" stroke-width="5" />
<polygon points="1088.5,955.5 1129.5,940.2 1129.5,970.8" fill="#000" stroke="none"/>
<line x1="1125" y1="955.5" x2="1151" y2="955.5" stroke-width="5" />
<line x1="1265.9" y1="1093.9" x2="1265.9" y2="1185.6" stroke-width="5" stroke-linecap="butt"/>
<polygon points="1265.9,1066.5 1249.9,1108.5 1281.9,1108.5" fill="#000" stroke="none"/>
<polygon points="1265.9,1213 1249.9,1171 1281.9,1171" fill="#000" stroke="none"/>
<line x1="967.6" y1="1125" x2="967.6" y2="1344" stroke-width="5" />
<line x1="1147.4" y1="1125" x2="1147.4" y2="1344" stroke-width="5" />
<line x1="996.3" y1="1322.8" x2="1118.7" y2="1322.8" stroke-width="5" stroke-linecap="butt"/>
<polygon points="969.6,1322.8 1010.6,1306.8 1010.6,1338.8" fill="#000" stroke="none"/>
<polygon points="1145.4,1322.8 1104.4,1306.8 1104.4,1338.8" fill="#000" stroke="none"/>
<line x1="942.7" y1="1124.8" x2="1164.5" y2="1124.8" stroke-width="4.8" stroke-dasharray="92 8 96 10 15 10"/>
<line x1="1057.5" y1="1018" x2="1057.5" y2="1238" stroke-width="4.8" stroke-dasharray="16 10 76 5 25 11 80"/>
</g>
<g>
<text y="50.4" class="t"><tspan x="184.97" y="50.4" font-size="69.07" textLength="77.32" lengthAdjust="spacingAndGlyphs">26</tspan></text>
<text y="59.8" class="t"><tspan x="298.4" y="59.8" font-size="70.21" textLength="107.97" lengthAdjust="spacingAndGlyphs">105</tspan><tspan x="408.66" y="59.8" font-size="65.83" textLength="122.75" lengthAdjust="spacingAndGlyphs">mm</tspan></text>
<text y="58" class="t"><tspan x="1279.63" y="58" font-size="65.93" textLength="96.07" lengthAdjust="spacingAndGlyphs">110</tspan><tspan x="1376.57" y="58" font-size="62.31" textLength="122.43" lengthAdjust="spacingAndGlyphs">mm</tspan></text>
<text y="94" class="t"><tspan x="1539.15" y="94" font-size="63.64" textLength="253.98" lengthAdjust="spacingAndGlyphs">M20x1,5</tspan></text>
<text y="834.5" class="t"><tspan x="70.11" y="834.5" font-size="65.79" textLength="76.61" lengthAdjust="spacingAndGlyphs">60</tspan></text>
<text y="834.5" class="t"><tspan x="219.84" y="834.5" font-size="65.79" textLength="73.61" lengthAdjust="spacingAndGlyphs">63</tspan></text>
<text y="836.4" class="t"><tspan x="361.46" y="836.4" font-size="66.5" textLength="113.31" lengthAdjust="spacingAndGlyphs">140</tspan><tspan x="471.04" y="836.4" font-size="64.91" textLength="123.29" lengthAdjust="spacingAndGlyphs">mm</tspan></text>
<text y="818.2" class="t"><tspan x="700.87" y="818.2" font-size="64.93" textLength="64.93" lengthAdjust="spacingAndGlyphs">12</tspan><tspan x="768.61" y="818.2" font-size="60.46" textLength="123.95" lengthAdjust="spacingAndGlyphs">mm</tspan></text>
<text y="910.6" class="t"><tspan x="399.22" y="910.6" class="lt" font-size="65.07" textLength="112" lengthAdjust="spacingAndGlyphs">445</tspan><tspan x="511.87" y="910.6" font-size="59.91" textLength="127.53" lengthAdjust="spacingAndGlyphs">mm</tspan></text>
<text y="837.4" class="t"><tspan x="1272.34" y="837.4" font-size="67.64" textLength="109.23" lengthAdjust="spacingAndGlyphs">160</tspan><tspan x="1381.84" y="837.4" font-size="65.83" textLength="123.4" lengthAdjust="spacingAndGlyphs">mm</tspan></text>
<text y="913.4" class="t"><tspan x="1256.31" y="907.7" class="lt" font-size="69.29" textLength="117.76" lengthAdjust="spacingAndGlyphs">196</tspan><tspan x="1377.31" y="913.4" font-size="63.98" textLength="126.55" lengthAdjust="spacingAndGlyphs">mm</tspan></text>
<text y="946.3" class="t"><tspan x="1038.57" y="946.3" font-size="64.64" textLength="35.62" lengthAdjust="spacingAndGlyphs">8</tspan></text>
<text y="1274.8" class="t"><tspan x="378.45" y="1274.8" font-size="66.5" textLength="75.55" lengthAdjust="spacingAndGlyphs">22</tspan></text>
<text y="1316.6" class="t"><tspan x="1018.58" y="1316.6" font-size="67.07" textLength="72.74" lengthAdjust="spacingAndGlyphs">28</tspan></text>
<text transform="rotate(-90)" class="t"><tspan x="-641.26" y="1052.5" class="lt" font-size="72.43" textLength="108.69" lengthAdjust="spacingAndGlyphs">205</tspan><tspan x="-522.76" y="1055" font-size="64.35" textLength="120.8" lengthAdjust="spacingAndGlyphs">mm</tspan></text>
<text transform="rotate(-90)" class="t"><tspan x="-549.54" y="1760" font-size="67.36" textLength="34.35" lengthAdjust="spacingAndGlyphs">2</tspan><tspan x="-512.93" y="1758.5" class="lt" font-size="65.71" textLength="34.82" lengthAdjust="spacingAndGlyphs">6</tspan><tspan x="-477.07" y="1761.5" class="bd" font-size="70.21" textLength="40.63" lengthAdjust="spacingAndGlyphs">0</tspan><tspan x="-436.77" y="1760.2" font-size="62.5" textLength="123.51" lengthAdjust="spacingAndGlyphs">mm</tspan></text>
<text transform="rotate(-90)" class="t"><tspan x="-737.82" y="1675.7" class="lt" font-size="61.86" textLength="89.38" lengthAdjust="spacingAndGlyphs">100</tspan><tspan x="-645.69" y="1675.7" font-size="52.69" textLength="106.04" lengthAdjust="spacingAndGlyphs">mm</tspan></text>
<text transform="rotate(-90)" class="t"><tspan x="-1154.21" y="243.4" font-size="63.5" textLength="118.21" lengthAdjust="spacingAndGlyphs">M10</tspan></text>
<text transform="rotate(-90)" class="t"><tspan x="-1179.4" y="1246.4" font-size="69.36" textLength="78.88" lengthAdjust="spacingAndGlyphs">24</tspan></text>
</g>
</svg>
</body></html>
